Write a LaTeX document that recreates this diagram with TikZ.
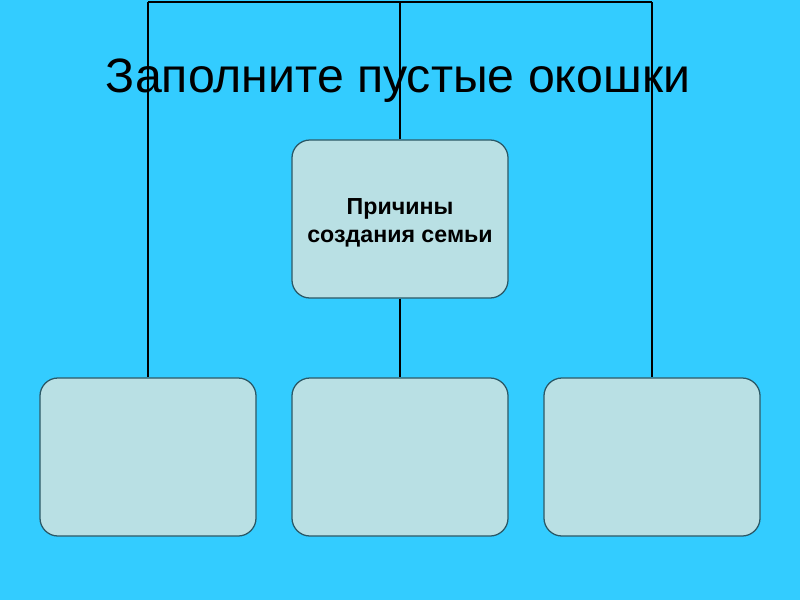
\documentclass[tikz,border=0pt]{standalone}
\usepackage{fontspec}
\setmainfont{Liberation Sans}
\usetikzlibrary{positioning}

\definecolor{slidebg}{HTML}{33CCFF}
\definecolor{boxfill}{HTML}{B9E0E4}
\definecolor{boxline}{HTML}{2A5866}

\begin{document}
\begin{tikzpicture}[x=0.025cm, y=-0.025cm,
        cbox/.style={draw=boxline, line width=0.9pt, rounded corners=0.45cm, fill=boxfill, minimum width=5.4cm, minimum height=3.95cm, align=center, font=\fontsize{16.5}{20}\selectfont\bfseries, inner sep=0pt},
        link/.style={line width=1.4pt, black},
        title/.style={font=\fontsize{34.3}{40}\selectfont, anchor=base}
    ]
        % Background slide
        \fill[slidebg] (0,0) rectangle (800,600);
        \useasboundingbox (0,0) rectangle (800,600);

        % Top rail points
        \coordinate (tl) at (148,2);
        \coordinate (tm) at (400,2);
        \coordinate (tr) at (652,2);

        % Boxes
        \node[cbox] (cause) at (400,219) {\\[-0.1cm]Причины\\создания семьи};
        \node[cbox] (b1) at (148,457) {};
        \node[cbox] (b2) at (400,457) {};
        \node[cbox] (b3) at (652,457) {};

        % Connectors
        \draw[link] (tl) -- (tr);
        \draw[link] (tl) -- (b1.north);
        \draw[link] (tm) -- (cause.north);
        \draw[link] (cause.south) -- (b2.north);
        \draw[link] (tr) -- (b3.north);

        % Title
        \node[title] (head) at (398,92) {Заполните пустые окошки};

    \end{tikzpicture}
\end{document}
